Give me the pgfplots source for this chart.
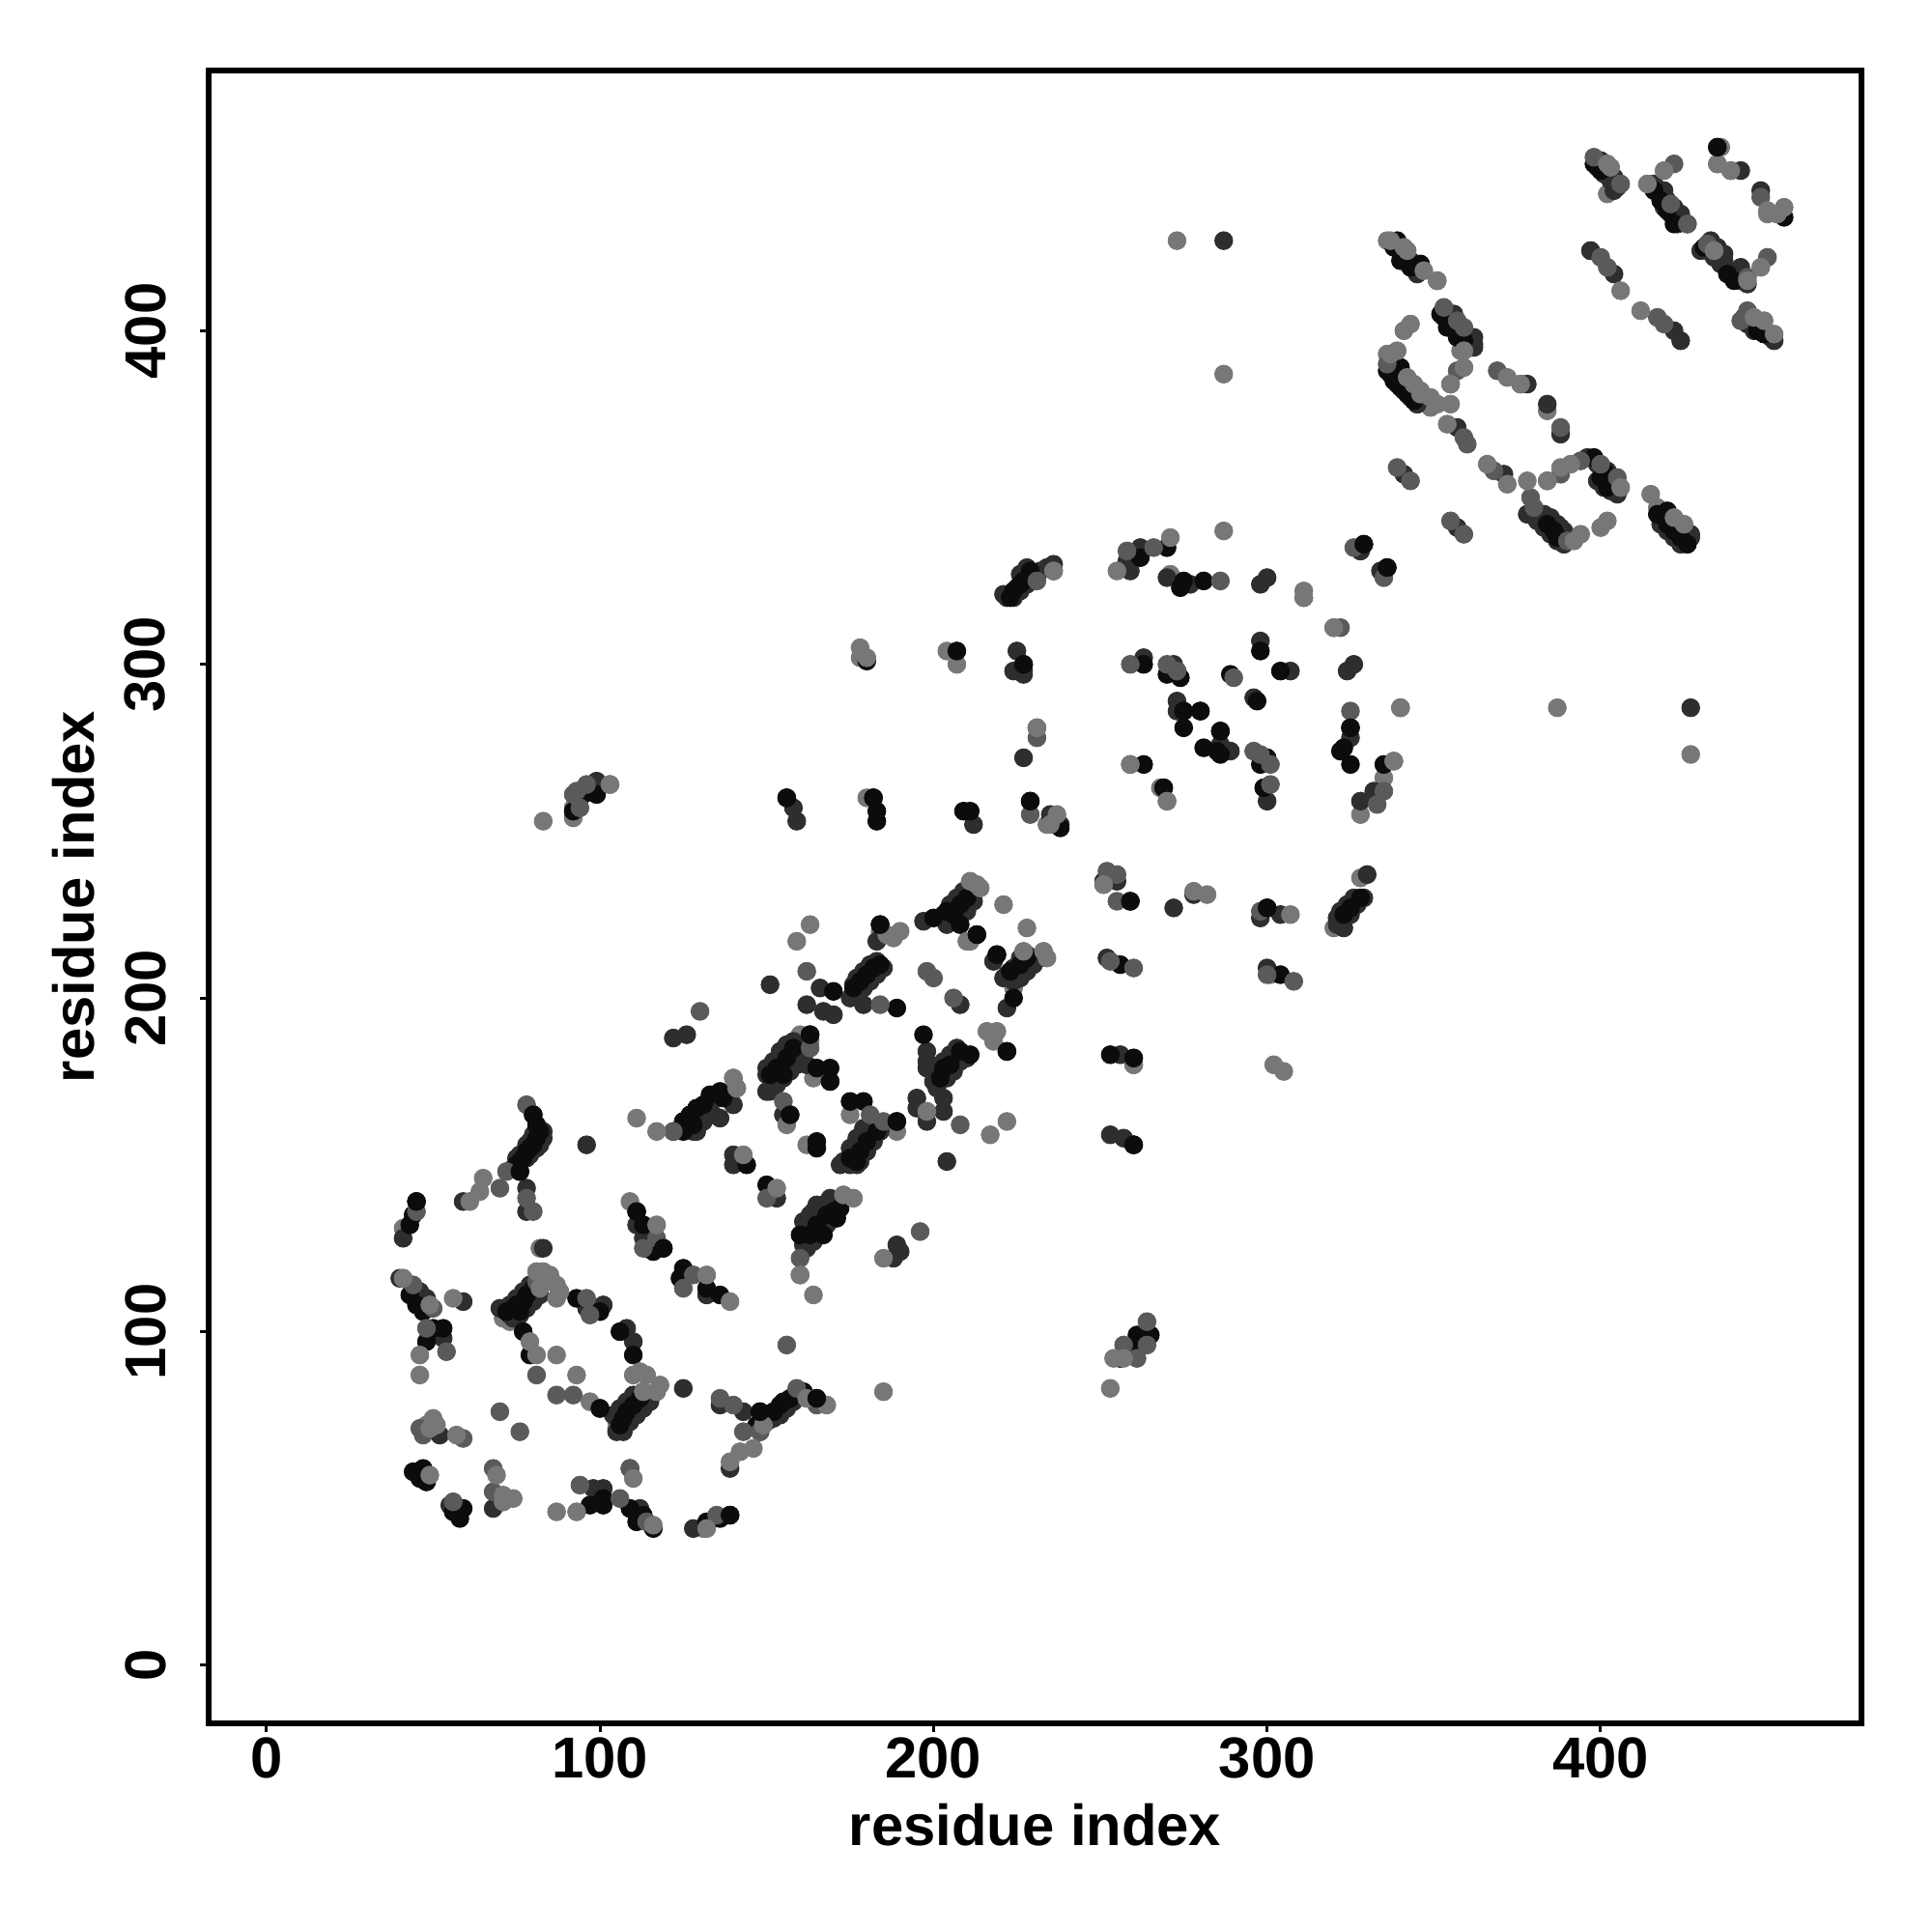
\documentclass[border=0pt]{standalone}
\usepackage{fontspec}
\setmainfont{Liberation Sans}
\usepackage{graphicx}
\usepackage{pgfplots}
\pgfplotsset{compat=1.18}
\definecolor{cL}{HTML}{777777}
\definecolor{cM}{HTML}{5A5A5A}
\definecolor{cD}{HTML}{2E2E2E}
\definecolor{cK}{HTML}{0C0C0C}
\begin{document}
\begin{tikzpicture}
\path[use as bounding box] (-108bp,-108bp) rectangle (892bp,892bp);
\begin{axis}[
  at={(0,0)},anchor=south west,
  scale only axis,width=855.5bp,height=855.5bp,
  xmin=-17.3,xmax=478.2,ymin=-17.4,ymax=478,
  axis line style={line width=2.6bp},
  tick style={line width=1.5bp,black},
  tick align=outside,major tick length=4.5bp,
  xtick={0,100,200,300,400},ytick={0,100,200,300,400},
  xtick pos=bottom,ytick pos=left,
  /pgf/number format/assume math mode=true,
  tick label style={font=\fontsize{30}{36}\selectfont\bfseries},
  xticklabel style={anchor=base,yshift=-23.5bp},
  yticklabel={\rotatebox{90}{\pgfmathprintnumber{\tick}}},
  yticklabel style={inner sep=0pt,xshift=-17.5bp},
  xlabel={residue index},ylabel={residue index},
  every axis x label/.style={at={(axis description cs:0.5,0)},anchor=base,yshift=-63bp,font=\fontsize{30}{36}\selectfont\bfseries},
  every axis y label/.style={at={(axis description cs:0,0.5)},rotate=90,anchor=base,yshift=59bp,font=\fontsize{30}{36}\selectfont\bfseries},
  clip=false,
  every axis plot/.append style={only marks,mark=*,mark size=4.65bp},
]
% light, underneath
\addplot[cL,mark options={draw=none,fill=cL}] coordinates {
(41,131)(82,125)(71,104)(73,103)(105,73)(109,74)(184,220)(202,224)(160,189)(164,176)(175,165)(162,156)(198,166)(189,160)(224,203)(211,217)(178,302)(180,260)(251,234)(320,221)(328,236)(335,266)(260,180)(301,207)(336,427)(355,384)(376,384)(384,376)(417,347)(270,259)(311,320)(320,311)(259,270)(328,255)(271,327)(336,393)(384,355)(402,441)(435,450)(439,448)(450,435)(453,435)(207,300)(234,252)(204,304)(163,187)(150,172)(92,254)(92,257)(41,116)(48,72)(131,41)(71,49)(105,71)(212,232)(346,382)(349,377)(358,394)(359,389)(334,262)(268,263)(179,302)(418,346)
};
% dark
\addplot[cD,mark options={draw=none,fill=cD}] coordinates {
(59,139)(78,143)(78,136)(41,128)(83,125)(96,156)(111,132)(113,128)(40,116)(46,112)(48,110)(59,109)(53,98)(70,107)(73,105)(96,107)(101,108)(108,101)(110,97)(132,111)(125,83)(136,78)(143,76)(139,59)(52,69)(48,55)(55,48)(68,47)(98,53)(101,53)(112,47)(109,59)(128,41)(136,164)(140,168)(125,163)(129,160)(122,160)(122,188)(126,189)(151,204)(166,203)(162,198)(167,196)(170,195)(179,198)(183,211)(176,204)(208,198)(218,211)(222,197)(221,206)(195,170)(195,167)(198,184)(198,179)(198,181)(203,170)(203,166)(198,163)(162,180)(150,177)(150,172)(155,165)(172,150)(175,150)(177,150)(140,153)(153,140)(197,223)(183,217)(204,151)(164,136)(189,126)(188,122)(190,124)(225,323)(221,321)(236,330)(262,335)(258,331)(259,328)(270,326)(277,324)(298,324)(300,326)(328,334)(334,328)(298,307)(225,304)(227,297)(225,298)(307,298)(324,298)(326,300)(263,302)(272,300)(273,289)(273,286)(289,274)(286,276)(296,290)(300,259)(325,278)(332,262)(328,259)(227,272)(235,255)(238,252)(269,263)(251,235)(255,235)(272,227)(278,231)(298,224)(304,225)(330,237)(321,224)(323,221)(252,212)(300,209)(256,183)(253,159)(257,158)(212,252)(158,257)(159,253)(99,265)(224,298)(227,298)(362,398)(362,395)(357,371)(345,378)(378,384)(384,378)(388,369)(341,357)(357,341)(371,357)(378,345)(383,345)(388,341)(389,339)(396,362)(402,358)(427,339)(425,341)(437,421)(442,419)(430,424)(397,424)(404,417)(422,400)(424,397)(442,448)(448,442)(404,442)(419,442)(424,435)(452,397)(397,424)(427,287)(345,417)(356,405)(328,334)(140,150)(148,70)(287,427)
(83,160)(83,158)(82,156)(81,155)(79,153)(78,152)(77,153)(76,153)(75,152)(74,149)(78,156)(79,157)(80,159)(81,161)
(127,163)(129,164)(131,166)(133,168)(135,170)(126,161)(128,160)(131,163)(134,165)
(74,104)(76,105)(78,107)(80,109)(82,111)(73,108)(75,110)(77,112)(79,114)
(105,70)(107,71)(109,73)(111,75)(113,77)(115,79)(104,75)(106,77)(108,79)(110,81)(107,70)
(150,73)(152,74)(154,75)(156,77)(158,79)(160,81)
(175,200)(177,201)(179,203)(181,205)(183,207)(185,209)(177,206)(179,208)(181,210)
(204,222)(206,223)(208,225)(210,226)(212,229)(203,225)(205,228)(207,230)(209,232)
(224,205)(226,206)(228,208)(230,210)(232,212)(222,207)(224,209)(226,212)(228,213)
(151,172)(153,174)(155,176)(157,178)(159,180)(161,183)(150,179)(152,181)(154,184)(156,186)(158,187)
(173,151)(176,153)(178,156)(180,159)(182,162)(184,160)(182,157)(180,154)(178,151)(175,155)(177,158)(179,161)
(202,178)(204,176)(206,178)(208,181)(210,182)(203,181)(205,183)(207,185)(200,175)(201,173)
(162,125)(164,127)(166,130)(168,132)(170,134)(172,139)(165,138)(161,133)(163,135)(167,138)(169,140)(161,126)(170,139)
(339,425)(341,423)(343,421)(345,419)
(353,404)(355,403)(356,401)(358,400)(360,398)(362,396)
(337,390)(338,388)(340,386)(342,384)(344,382)(339,384)(341,382)(343,380)(345,378)
(321,222)(323,223)(325,225)(327,228)(329,230)(322,226)(324,228)(326,230)
(222,320)(224,320)(226,322)(228,324)(230,326)(232,328)(234,329)(226,327)(228,329)
(385,344)(387,342)(389,340)(391,338)(381,343)(383,341)(385,339)(387,337)(389,336)
(399,360)(401,358)(403,356)(405,354)(399,355)(401,353)(403,352)(405,351)
(419,344)(421,343)(423,341)(425,339)(427,338)(418,342)(420,340)(422,338)(424,336)
(399,449)(401,447)(403,445)(405,443)(400,451)(402,449)(404,446)
(416,444)(418,441)(420,439)(422,437)(424,434)(426,432)(419,437)(421,435)(423,432)
(432,424)(434,422)(436,420)(438,418)(440,417)(442,415)(444,414)(433,427)(435,425)(437,423)
(443,404)(445,402)(447,401)(449,400)(451,398)(444,402)(446,400)
};
% black
\addplot[cK,mark options={draw=none,fill=cK}] coordinates {
(45,139)(44,135)(43,132)(80,165)(81,162)(82,160)(81,158)(80,156)(79,155)(78,154)(77,152)(76,151)(75,150)(76,148)(111,136)(113,132)(116,124)(119,125)(114,125)(125,160)(125,163)(127,165)(129,167)(131,168)(133,171)(136,172)(128,162)(137,170)(144,150)(125,119)(124,116)(132,113)(136,111)(43,111)(45,108)(47,106)(48,97)(50,101)(53,101)(72,106)(74,107)(75,108)(77,109)(78,111)(80,113)(76,106)(93,110)(100,106)(106,100)(110,93)(77,100)(79,93)(100,77)(107,74)(108,76)(110,78)(112,80)(113,82)(106,72)(44,58)(47,59)(46,56)(48,55)(59,47)(58,44)(56,46)(97,48)(101,48)(101,50)(109,47)(111,43)(116,41)(113,45)(132,43)(136,44)(139,45)(148,76)(147,72)(152,76)(154,78)(155,79)(161,82)(165,80)(157,80)(184,222)(176,203)(178,205)(180,207)(182,209)(184,210)(170,202)(189,197)(208,228)(206,225)(208,222)(200,224)(204,226)(210,230)(213,219)(219,213)(226,210)(223,208)(224,200)(228,212)(197,189)(163,189)(158,185)(156,182)(153,179)(151,177)(155,177)(165,179)(169,179)(169,175)(157,165)(175,169)(179,169)(189,163)(183,160)(180,157)(178,154)(175,152)(177,151)(165,157)(165,155)(150,144)(172,137)(171,134)(168,135)(167,129)(163,129)(160,129)(170,136)(165,132)(211,183)(208,184)(203,179)(202,176)(205,180)(222,184)(229,328)(227,325)(226,324)(224,322)(223,320)(270,335)(262,332)(274,323)(275,325)(281,325)(298,304)(304,298)(263,300)(270,297)(274,296)(273,298)(289,297)(297,289)(275,286)(280,286)(275,281)(286,280)(281,275)(285,274)(286,273)(300,272)(298,270)(299,263)(325,281)(323,275)(322,274)(325,270)(335,270)(229,259)(263,270)(269,263)(259,229)(300,227)(328,230)(325,227)(323,225)(329,336)(336,329)(337,387)(340,389)(338,385)(340,383)(342,381)(344,379)(336,388)(339,427)(338,425)(340,421)(346,420)(343,419)(352,405)(354,401)(357,398)(359,397)(398,362)(400,356)(402,353)(401,358)(384,342)(386,340)(387,338)(420,346)(417,345)(420,342)(422,340)(424,338)(426,336)(398,450)(400,448)(416,442)(418,439)(422,432)(420,436)(435,455)(455,434)(431,425)(438,417)(440,415)(447,400)(449,399)(156,260)(182,260)(183,256)(183,253)(209,256)(211,256)(95,261)(99,261)(92,256)(180,301)(207,304)(227,300)(256,210)(253,183)(260,182)(260,156)(261,99)(265,99)(261,95)(256,92)(304,207)(238,251)
};
% mid
\addplot[cM,mark options={draw=none,fill=cM}] coordinates {
(78,168)(70,143)(72,148)(78,140)(45,136)(80,136)(44,114)(50,107)(48,101)(54,94)(81,87)(70,76)(76,70)(47,69)(46,71)(59,68)(68,59)(68,52)(56,49)(94,54)(106,50)(114,43)(135,45)(109,59)(87,81)(92,81)(136,80)(140,78)(143,70)(148,70)(156,96)(159,83)(165,78)(122,160)(130,196)(162,208)(184,198)(198,208)(200,206)(206,200)(163,185)(181,165)(185,163)(208,162)(155,169)(150,140)(196,130)(160,122)(229,255)(231,281)(231,278)(255,229)(298,226)(300,207)(308,205)(252,238)(255,237)(117,128)(113,125)(128,117)(125,113)(96,110)(97,105)(81,115)(231,325)(236,328)(258,334)(266,335)(286,325)(322,311)(326,335)(335,326)(259,300)(270,300)(273,298)(290,296)(296,274)(298,273)(301,270)(301,264)(325,286)(335,262)(333,258)(264,103)(264,96)(257,96)(261,92)(253,211)(260,209)(339,359)(343,355)(355,343)(359,339)(336,390)(353,407)(357,403)(359,401)(359,368)(360,366)(357,388)(369,388)(388,371)(368,358)(379,350)(380,347)(390,337)(388,357)(394,361)(400,360)(405,356)(398,452)(406,444)(422,450)(421,438)(426,432)(432,426)(434,424)(444,416)(450,422)(442,403)(444,406)(400,422)(402,419)(417,404)(419,402)(448,440)(351,415)(340,287)(94,257)(96,264)(92,261)(103,264)(160,117)(93,262)
};
% light, on top
\addplot[cL,mark options={draw=none,fill=cL}] coordinates {
(65,146)(64,142)(61,139)(46,93)(46,87)(41,116)(49,108)(56,110)(79,97)(81,93)(87,93)(93,87)(83,118)(85,117)(87,114)(88,112)(87,110)(82,113)(81,118)(110,87)(112,88)(114,87)(118,84)(117,82)(113,82)(97,79)(111,164)(117,160)(140,176)(141,173)(109,139)(117,132)(132,117)(139,109)(143,153)(153,143)(50,74)(49,71)(51,72)(57,69)(69,57)(71,51)(74,50)(71,49)(87,46)(93,46)(49,57)(110,56)(116,42)(132,41)(142,64)(146,65)(139,61)(149,72)(162,80)(168,78)(185,82)(253,83)(254,92)(257,92)(163,222)(159,217)(190,220)(188,218)(186,219)(221,228)(228,221)(213,234)(211,235)(214,233)(210,217)(227,214)(233,214)(234,212)(219,190)(216,190)(218,187)(140,176)(141,173)(198,166)(217,159)(222,163)(173,141)(176,140)(160,117)(164,111)(156,162)(185,122)(83,253)(103,264)(178,305)(180,302)(237,255)(235,252)(231,281)(236,328)(271,338)(255,328)(287,340)(311,322)(311,320)(320,311)(340,287)(338,271)(259,270)(270,259)(251,234)(282,231)(278,232)(307,225)(305,178)(302,180)(273,427)(287,387)(387,287)(427,273)(402,343)(400,341)(415,351)(422,344)(425,342)(406,353)(394,339)(392,337)(378,355)(372,354)(366,360)(384,355)(388,359)(391,360)(372,386)(376,384)(339,394)(337,393)(342,386)(344,384)(346,381)(349,380)(351,378)(355,378)(354,372)(359,394)(359,389)(355,384)(343,402)(341,400)(337,427)(341,425)(342,424)(347,418)(351,415)(406,412)(412,406)(402,450)(403,449)(419,448)(414,444)(436,455)(435,450)(439,448)(450,436)(453,435)(455,437)(446,404)(449,403)(452,399)(434,424)(448,419)(444,415)(260,180)(338,271)
};
% black, on top
\addplot[cK,mark options={draw=none,fill=cK}] coordinates {
(80,165)(76,148)(45,139)(111,136)(119,125)(100,77)(139,45)(148,76)(165,80)(169,175)(163,189)(157,165)(189,163)(222,184)(184,222)(213,219)(219,213)(275,286)(280,286)(325,281)(286,280)(300,227)(259,229)(260,182)(260,156)(156,260)(182,260)(229,259)(227,300)(329,336)(336,329)(435,455)
};
\end{axis}
\end{tikzpicture}
\end{document}
